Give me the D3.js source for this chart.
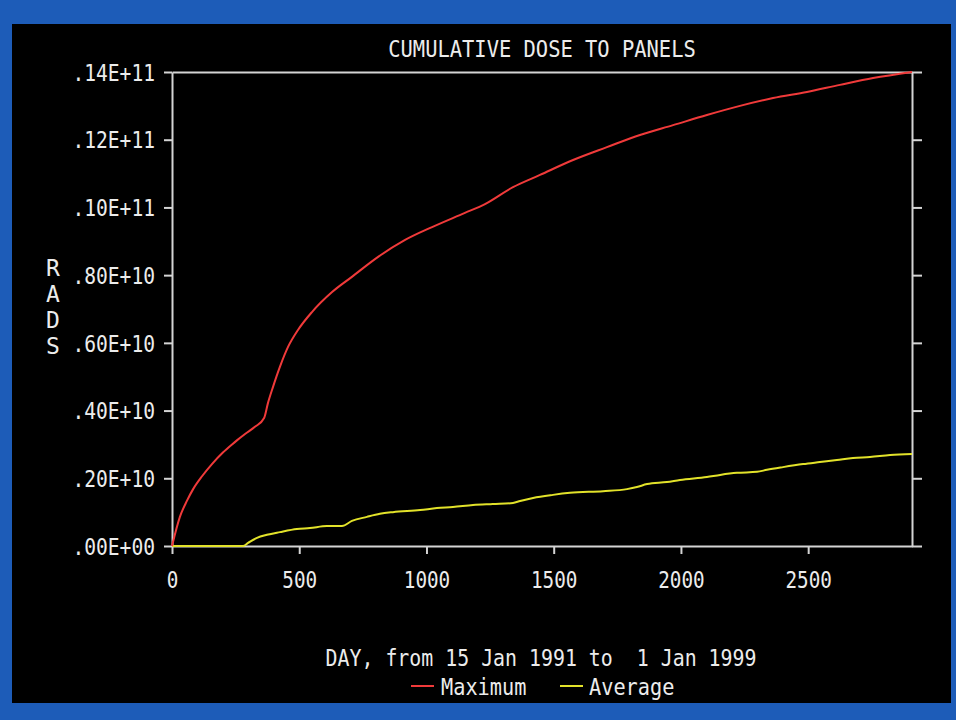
<!DOCTYPE html>
<html>
<head>
<meta charset="utf-8">
<script src="https://cdn.jsdelivr.net/npm/d3@7"></script>
<style>
  html, body { margin: 0; padding: 0; background: #1d5fbf; }
  svg { display: block; }
</style>
</head>
<body>
<svg id="chart" width="956" height="720"></svg>
<script>
// ---- Data ----
const title = "CUMULATIVE DOSE TO PANELS";
const xTitle = "DAY, from 15 Jan 1991 to  1 Jan 1999";
const yTitleLetters = ["R", "A", "D", "S"];
const seriesNames = ["Maximum", "Average"];
const seriesColors = ["#f03a3a", "#e2e22a"];

const xTickValues = [0, 500, 1000, 1500, 2000, 2500];
const xDomainMax = 2908;
const yTickValues = [0, 2e9, 4e9, 6e9, 8e9, 1e10, 1.2e10, 1.4e10];
const yTickLabels = [".00E+00", ".20E+10", ".40E+10", ".60E+10", ".80E+10", ".10E+11", ".12E+11", ".14E+11"];

const maxDays = [0, 31, 59, 83, 118, 157, 200, 236, 255, 287, 326, 362, 377, 397, 424, 456, 495, 550, 629, 707, 810, 916, 1022, 1151, 1230, 1340, 1446, 1576, 1709, 1839, 1969, 2102, 2232, 2362, 2495, 2625, 2755, 2908];
const maxVals = [0, 0.86e9, 1.34e9, 1.68e9, 2.06e9, 2.42e9, 2.76e9, 3.00e9, 3.12e9, 3.31e9, 3.52e9, 3.78e9, 4.22e9, 4.70e9, 5.29e9, 5.88e9, 6.38e9, 6.91e9, 7.50e9, 7.95e9, 8.54e9, 9.04e9, 9.42e9, 9.84e9, 10.10e9, 10.60e9, 10.96e9, 11.40e9, 11.78e9, 12.14e9, 12.43e9, 12.73e9, 13.00e9, 13.23e9, 13.41e9, 13.62e9, 13.82e9, 14.00e9];

const avgDays = [0, 279, 299, 334, 373, 424, 491, 542, 609, 668, 707, 766, 817, 868, 975, 1041, 1104, 1183, 1261, 1340, 1368, 1419, 1497, 1564, 1694, 1788, 1827, 1867, 1945, 1996, 2102, 2154, 2220, 2299, 2338, 2401, 2480, 2546, 2613, 2676, 2743, 2822, 2908];
const avgVals = [0, 0, 0.09e9, 0.24e9, 0.33e9, 0.41e9, 0.50e9, 0.53e9, 0.59e9, 0.59e9, 0.74e9, 0.86e9, 0.95e9, 1.00e9, 1.06e9, 1.12e9, 1.15e9, 1.21e9, 1.24e9, 1.27e9, 1.33e9, 1.42e9, 1.51e9, 1.57e9, 1.62e9, 1.68e9, 1.74e9, 1.83e9, 1.89e9, 1.95e9, 2.04e9, 2.10e9, 2.16e9, 2.19e9, 2.25e9, 2.33e9, 2.42e9, 2.48e9, 2.54e9, 2.60e9, 2.63e9, 2.69e9, 2.72e9];

// ---- Layout ----
const W = 956, H = 720;
const plot = { left: 172, right: 912, top: 72, bottom: 546 };
const axisColor = "#d4d4d4";
const textColor = "#ececec";
const FONT = "'DejaVu Sans Mono', 'Liberation Mono', monospace";
const FS = 23;

const svg = d3.select("#chart");

svg.append("rect").attr("x", 0).attr("y", 0).attr("width", W).attr("height", H).attr("fill", "#1d5cb8");
svg.append("rect").attr("x", 12).attr("y", 24).attr("width", 939).attr("height", 679).attr("fill", "#000");

const x = d3.scaleLinear().domain([0, xDomainMax]).range([plot.left, plot.right]);
const y = d3.scaleLinear().domain([0, 1.4e10]).range([plot.bottom, plot.top]);

function styleText(sel, charW) {
  sel.attr("font-family", FONT)
     .attr("font-size", FS)
     .attr("fill", textColor)
     .each(function() {
       const t = d3.select(this);
       const s = t.text();
       t.attr("textLength", s.length * charW).attr("lengthAdjust", "spacingAndGlyphs");
     });
}

// Left axis
const gL = svg.append("g").attr("transform", `translate(${plot.left},0)`)
  .call(d3.axisLeft(y).tickValues(yTickValues).tickSize(8).tickSizeOuter(0)
        .tickPadding(9).tickFormat((d, i) => yTickLabels[i]));
// Right axis
const gR = svg.append("g").attr("transform", `translate(${plot.right},0)`)
  .call(d3.axisRight(y).tickValues(yTickValues).tickSize(10).tickSizeOuter(0).tickFormat(""));
// Bottom axis
const gB = svg.append("g").attr("transform", `translate(0,${plot.bottom})`)
  .call(d3.axisBottom(x).tickValues(xTickValues).tickSize(8).tickSizeOuter(0)
        .tickPadding(18).tickFormat(d3.format("d")));
// Top axis (line only)
const gT = svg.append("g").attr("transform", `translate(0,${plot.top})`)
  .call(d3.axisTop(x).tickValues([]).tickSizeOuter(0));

[gL, gR, gB, gT].forEach(g => {
  g.select(".domain").attr("stroke", axisColor).attr("stroke-width", 2);
  g.selectAll(".tick line").attr("stroke", axisColor).attr("stroke-width", 2);
});
gL.selectAll(".tick text").attr("dy", "0.36em");
styleText(gL.selectAll(".tick text"), 11.8);
styleText(gB.selectAll(".tick text"), 11.6);
gB.selectAll(".tick text").attr("dy", "0.71em");

// Lines
const maxData = maxDays.map((d, i) => ({ d, v: maxVals[i] }));
const avgData = avgDays.map((d, i) => ({ d, v: avgVals[i] }));
const line = d3.line().x(p => x(p.d)).y(p => y(p.v)).curve(d3.curveMonotoneX);

svg.append("path").datum(avgData).attr("d", line)
  .attr("fill", "none").attr("stroke", seriesColors[1]).attr("stroke-width", 2);
svg.append("path").datum(maxData).attr("d", line)
  .attr("fill", "none").attr("stroke", seriesColors[0]).attr("stroke-width", 2);

// Title
styleText(svg.append("text").attr("x", (plot.left + plot.right) / 2).attr("y", 57)
  .attr("text-anchor", "middle").text(title), 12.3);

// Y title stacked letters
yTitleLetters.forEach((ch, i) => {
  svg.append("text").attr("x", 53).attr("y", 276 + i * 26)
    .attr("text-anchor", "middle").attr("font-family", FONT).attr("font-size", FS)
    .attr("fill", textColor).text(ch);
});

// X title
styleText(svg.append("text").attr("x", 541).attr("y", 666)
  .attr("text-anchor", "middle").attr("xml:space", "preserve").style("white-space", "pre").text(xTitle), 11.97);

// Legend
const legendItems = [
  { name: seriesNames[0], color: seriesColors[0], lx: 411, tx: 441 },
  { name: seriesNames[1], color: seriesColors[1], lx: 560, tx: 589 }
];
legendItems.forEach(it => {
  svg.append("line").attr("x1", it.lx).attr("x2", it.lx + 23).attr("y1", 686).attr("y2", 686)
    .attr("stroke", it.color).attr("stroke-width", 2);
  styleText(svg.append("text").attr("x", it.tx).attr("y", 695).text(it.name), 12.2);
});
</script>
</body>
</html>
